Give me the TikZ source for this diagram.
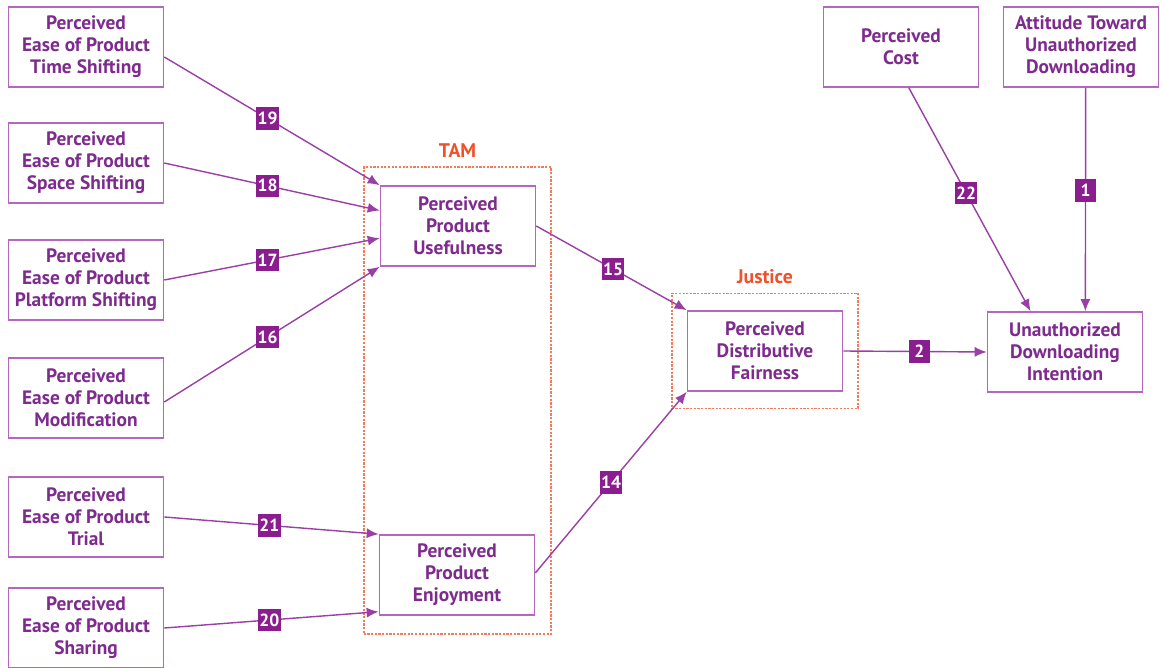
\documentclass[tikz,border=0pt]{standalone}
\usepackage{fontspec}
\setsansfont{PT Sans}
\usepackage{tikz}
\usetikzlibrary{arrows.meta, positioning, fit, calc}
\usepackage{xcolor}
\definecolor{purpletext}{HTML}{7E2B8E}
\definecolor{boxline}{HTML}{B566BE}
\definecolor{arrowline}{HTML}{9A3FA5}
\definecolor{labfill}{HTML}{8A1E8E}
\definecolor{groupred}{HTML}{F0502A}
\definecolor{groupline}{HTML}{F47A5C}
\tikzset{
  varbox/.style={rectangle, draw=boxline, fill=white, line width=1.1pt,
                 minimum width=3.875cm, minimum height=2cm, inner sep=1pt,
                 align=center, text=purpletext,
                 font=\sffamily\bfseries\fontsize{13.8}{15.6}\selectfont},
  groupbox/.style={rectangle, draw=groupline, dash pattern=on 1.6pt off 1pt,
                   line width=1.2pt},
  grouplab/.style={text=groupred, inner sep=1pt,
                   font=\sffamily\bfseries\fontsize{14}{15}\selectfont},
  effect/.style={-{Latex[length=3mm,width=2.5mm]}, line width=1pt, draw=arrowline},
  numlab/.style={rectangle, fill=labfill, text=white, inner sep=1pt,
                 minimum width=0.52cm, minimum height=0.56cm,
                 font=\sffamily\bfseries\fontsize{12.5}{13}\selectfont},
}
\begin{document}
\begin{tikzpicture}[x=0.025cm, y=-0.025cm]
  \useasboundingbox (0,0) rectangle (1160,668);

  % --- Antecedents (left column) ---
  \node[varbox] (tshift) at (86, 47)  {Perceived\\Ease of Product\\Time Shifting};
  \node[varbox] (sshift) at (86, 163) {Perceived\\Ease of Product\\Space Shifting};
  \node[varbox] (pshift) at (86, 280) {Perceived\\Ease of Product\\Platform Shifting};
  \node[varbox] (modif)  at (86, 398) {Perceived\\Ease of Product\\Modification};
  \node[varbox] (trial)  at (86, 517) {Perceived\\Ease of Product\\Trial};
  \node[varbox] (share)  at (86, 628) {Perceived\\Ease of Product\\Sharing};

  % --- TAM ---
  \node[varbox] (useful) at (458, 226) {Perceived\\Product\\Usefulness};
  \node[varbox] (enjoy)  at (457, 575) {Perceived\\Product\\Enjoyment};
  \node[groupbox, fit=(useful)(enjoy), inner xsep=0.375cm, inner ysep=0.45cm] (tam) {};
  \node[grouplab, above=5pt of tam] {TAM};

  % --- Justice ---
  \node[varbox] (fair) at (765, 351) {Perceived\\Distributive\\Fairness};
  \node[groupbox, fit=(fair), inner xsep=0.375cm, inner ysep=0.42cm] (justice) {};
  \node[grouplab, above=5pt of justice] {Justice};

  % --- Outcome side ---
  \node[varbox] (intent) at (1065, 352) {Unauthorized\\Downloading\\Intention};
  \node[varbox] (cost)   at (901, 47)   {Perceived\\Cost};
  \node[varbox] (attit)  at (1081, 47)  {Attitude Toward\\Unauthorized\\Downloading};

  % --- Paths into usefulness ---
  \draw[effect] ([yshift=-0.25cm]tshift.east) -- (useful.north west) node[numlab, pos=0.48]{19};
  \draw[effect] (sshift.east) -- ($(useful.north west)!0.31!(useful.south west)$) node[numlab, pos=0.48]{18};
  \draw[effect] (pshift.east) -- ($(useful.north west)!0.65!(useful.south west)$) node[numlab, pos=0.48]{17};
  \draw[effect] ([yshift=-0.1cm]modif.east) -- (useful.south west) node[numlab, pos=0.48]{16};

  % --- Paths into enjoyment ---
  \draw[effect] (trial.east) -- (enjoy.north west) node[numlab, pos=0.49]{21};
  \draw[effect] (share.east) -- ($(enjoy.north west)!0.95!(enjoy.south west)$) node[numlab, pos=0.49]{20};

  % --- TAM to justice ---
  \draw[effect] (useful.east) -- (fair.north west) node[numlab, pos=0.51]{15};
  \draw[effect] ([yshift=0.05cm]enjoy.east) -- (fair.south west) node[numlab, pos=0.5]{14};

  % --- Into intention ---
  \draw[effect] (fair.east) -- (intent.west) node[numlab, pos=0.53]{2};
  \draw[effect] ($(cost.south west)!0.55!(cost.south east)$) -- ($(intent.north west)!0.28!(intent.north east)$) node[numlab, pos=0.47]{22};
  \draw[effect] ($(attit.south west)!0.53!(attit.south east)$) -- ($(intent.north west)!0.63!(intent.north east)$) node[numlab, pos=0.46]{1};

\end{tikzpicture}
\end{document}
